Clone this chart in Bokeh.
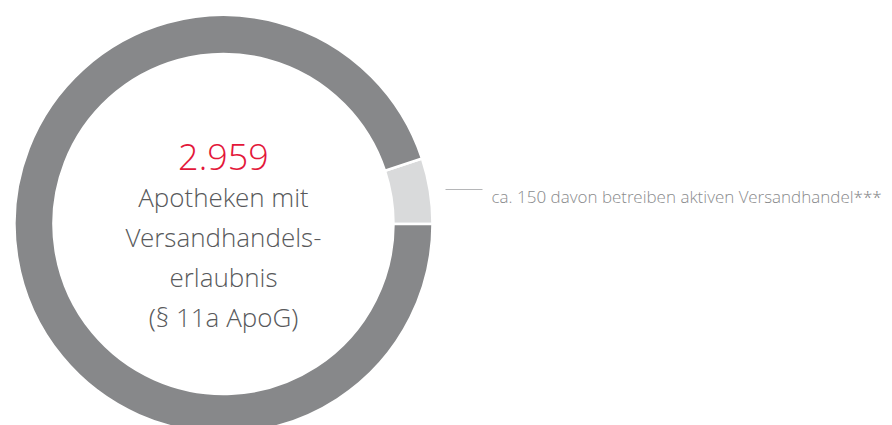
import numpy as np
from bokeh.plotting import figure
from bokeh.models import Range1d, ColumnDataSource
from bokeh.core.properties import value
from bokeh.embed import file_html
from bokeh.resources import INLINE

# --- data ---
segments = ["aktiver Versandhandel", "übrige mit Erlaubnis"]
segment_values = [150, 2809]
segment_colors = ["#d9dadb", "#87888a"]
total_label = "2.959"
center_lines = ["Apotheken mit", "Versandhandels-", "erlaubnis", "(§ 11a ApoG)"]
annotation = "ca. 150 davon betreiben aktiven Versandhandel***"

W, H = 892, 425
p = figure(width=W, height=H, output_backend="svg", toolbar_location=None,
           x_range=Range1d(0, W), y_range=Range1d(0, H), min_border=0)
p.axis.visible = False
p.grid.visible = False
p.outline_line_color = None
p.background_fill_color = "white"
p.border_fill_color = "white"

def sx(x):  # screen px -> data x
    return x
def sy(y):  # screen px -> data y
    return H - y

cx, cy = sx(223), sy(223.5)
vals = np.array(segment_values, dtype=float)
frac = vals / vals.sum()
ends = np.cumsum(frac) * 2 * np.pi
starts = np.concatenate([[0.0], ends[:-1]])
src = ColumnDataSource(dict(name=segments, start=starts, end=ends, color=segment_colors))
p.annular_wedge(x=cx, y=cy, inner_radius=170, outer_radius=209,
                start_angle="start", end_angle="end", direction="anticlock",
                fill_color="color", line_color="white", line_width=2.5, source=src)

font = value("Open Sans Light, Open Sans")
p.text(x=[cx], y=[sy(156)], text=[total_label], text_font=font,
       text_font_size="36px", text_color="#e3173a", text_align="center",
       text_baseline="alphabetic")
baselines = [196, 236, 276, 316]
p.text(x=[cx] * len(center_lines), y=[sy(b) for b in baselines], text=center_lines,
       text_font=font, text_font_size="26px", text_color="#58595b",
       text_align="center", text_baseline="alphabetic")

p.segment(x0=[sx(445)], y0=[sy(189)], x1=[sx(482)], y1=[sy(189)],
          line_color="#b5b6b8", line_width=1)
p.text(x=[sx(491)], y=[sy(196)], text=[annotation], text_font=font,
       text_font_size="17px", text_color="#8a8b8d", text_align="left",
       text_baseline="alphabetic")

open("out.html", "w").write(file_html(p, INLINE))
